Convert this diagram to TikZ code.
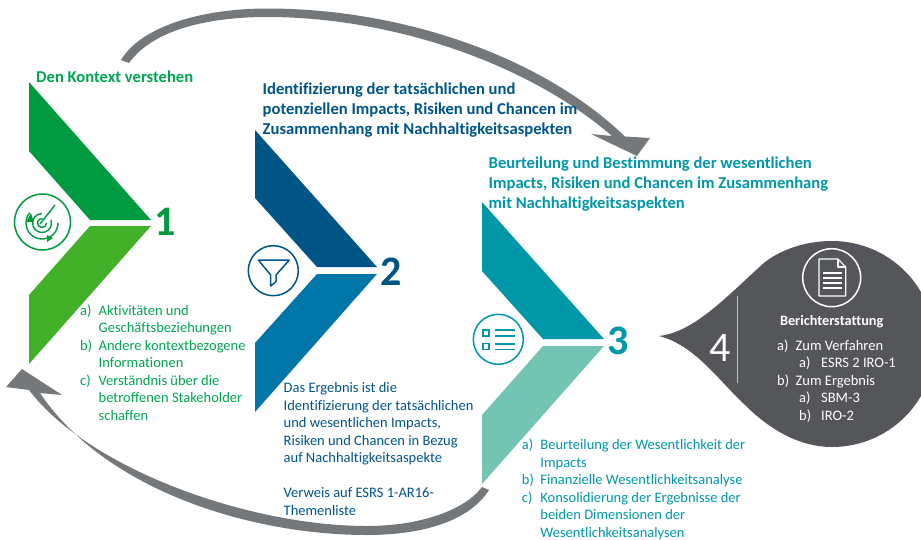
\documentclass[tikz,border=0pt]{standalone}
\usepackage{fontspec}
\setmainfont[Ligatures=NoCommon]{Carlito}
\usetikzlibrary{arrows.meta}
\definecolor{greenA}{RGB}{0,155,65}
\definecolor{greenB}{RGB}{67,176,42}
\definecolor{greenT}{RGB}{0,166,81}
\definecolor{blueA}{RGB}{0,85,135}
\definecolor{blueB}{RGB}{0,117,168}
\definecolor{tealA}{RGB}{0,151,169}
\definecolor{tealB}{RGB}{116,196,180}
\definecolor{arrowgrey}{RGB}{117,120,123}
\definecolor{dropgrey}{RGB}{84,86,90}
\definecolor{ruleg}{RGB}{190,192,194}
\newcommand{\lab}[1]{\makebox[18.5pt][l]{#1}}
\tikzset{
  x=1pt,y=-1pt,
  titletext/.style={anchor=base west,inner sep=0pt,align=left,font=\fontsize{16.6}{20}\selectfont\bfseries},
  bodytext/.style={anchor=base west,inner sep=0pt,align=left,font=\fontsize{14.5}{17.5}\selectfont},
  bignum/.style={inner sep=0pt,font=\fontsize{42}{42}\selectfont\bfseries},
  iconring/.style={line width=1.5pt,fill=white},
}
\begin{document}
\begin{tikzpicture}
\clip (0,0) rectangle (921,539);
\fill[white] (0,0) rectangle (921,539);

% top arrow
\fill[arrowgrey] (121,60) .. controls (142,25) and (205,8.5) .. (267,8.5)
  .. controls (400,8.5) and (540,55) .. (625,136.5) -- (650,138) -- (637,156) -- (591,134) -- (612,136)
  .. controls (530,65) and (395,17) .. (267,17)
  .. controls (215,17) and (155,27) .. (129,63) -- cycle;
% bottom arrow
\fill[arrowgrey] (482,487) .. controls (465,510) and (420,526) .. (367,526)
  .. controls (250,526) and (90,470) .. (29,390) -- (6,387) -- (22,369) -- (62,395) -- (40,393)
  .. controls (105,490) and (250,535) .. (367,535)
  .. controls (425,535) and (470,520) .. (489,490) -- cycle;

% chevrons
\fill[greenA] (29,82) -- (151,220) -- (90,220) -- (29,151) -- cycle;
\fill[greenB] (151,226) -- (90,226) -- (29,295) -- (29,364) -- cycle;
\fill[blueA] (255,130) -- (377,267) -- (317,267) -- (255,198) -- cycle;
\fill[blueB] (377,274) -- (317,274) -- (255,343) -- (255,412) -- cycle;
\fill[tealA] (482,202) -- (604,339) -- (543,339) -- (482,271) -- cycle;
\fill[tealB] (604,346) -- (543,346) -- (482,415) -- (482,484) -- cycle;

% drop
\fill[dropgrey] (659,336) .. controls (695,332) and (728,295) .. (765,262)
  .. controls (785,247) and (810,241) .. (832,241)
  .. controls (889,241) and (935,287) .. (935,344)
  .. controls (935,401) and (889,447) .. (832,447)
  .. controls (800,447) and (770,430) .. (745,405)
  .. controls (720,382) and (695,345) .. (659,336) -- cycle;
\draw[ruleg,line width=0.8pt] (737.5,296) -- (737.5,383);

% icon 1: radar
\draw[greenA,iconring] (42.5,222) circle (28);
\begin{scope}[greenA,line width=1.4pt]
  \draw (42,223) ++(0:4.5) arc (0:280:4.5);
  \draw (42,223) ++(-20:9.5) arc (-20:270:9.5);
  \draw (42,223) ++(0:16) arc (0:220:16);
  \draw (40,224) -- (55,205);
  \fill (26,222) -- (31,213) -- (34,222) -- cycle;
  \fill (47,235) -- (53,238) -- (47,242) -- cycle;
\end{scope}
% icon 2: funnel
\draw[blueA,iconring] (273.3,270.7) circle (25);
\draw[blueA,line width=1.5pt,line join=round] (258.3,260) -- (289.3,260) -- (276,275) -- (276,281.7) -- (270.7,286) -- (270.7,275) -- cycle;
% icon 3: list
\draw[tealA,iconring] (498.3,339.3) circle (25);
\begin{scope}[tealA,line width=1.3pt]
  \draw (483,330) rectangle (489,336);
  \draw (483,343.7) rectangle (489,349.7);
  \draw (495,330) -- (515,330);
  \draw (495,336) -- (515,336);
  \draw (495,344) -- (515,344);
  \draw (495,349.3) -- (515,349.3);
\end{scope}
% icon 4: document
\draw[white,line width=1.5pt] (831.7,277.7) circle (29);
\begin{scope}[white,line width=1.2pt,line join=round]
  \draw (819,259) -- (838,259) -- (845.7,267) -- (845.7,296) -- (819,296) -- cycle;
  \draw (838,259) -- (838,267) -- (845.7,267);
  \draw[line width=1.6pt] (823,273) -- (841.5,273) (823,278) -- (841.5,278) (823,283) -- (841.5,283) (823,288) -- (841.5,288);
\end{scope}

% numbers
\node[bignum,text=greenA] (n1) at (165,222) {1};
\node[bignum,text=blueA] (n2) at (391,272) {2};
\node[bignum,text=tealA] (n3) at (618,341) {3};
\node[inner sep=0pt,font=\fontsize{42}{42}\selectfont,text=white] (n4) at (720.5,348) {4};

% titles
\node[titletext,text=greenT] (t1) at (36,82) {Den Kontext verstehen};
\node[titletext,text=blueA] (t2) at (262.5,134) {Identifizierung der tatsächlichen und\\potenziellen Impacts, Risiken und Chancen im\\Zusammenhang mit Nachhaltigkeitsaspekten};
\node[titletext,text=tealA] (t3) at (488.5,208) {Beurteilung und Bestimmung der wesentlichen\\Impacts, Risiken und Chancen im Zusammenhang\\mit Nachhaltigkeitsaspekten};

% bodies
\node[bodytext,text=greenT] (b1) at (80,420) {\lab{a)}Aktivitäten und\\\lab{}Geschäftsbeziehungen\\\lab{b)}Andere kontextbezogene\\\lab{}Informationen\\\lab{c)}Verständnis über die\\\lab{}betroffenen Stakeholder\\\lab{}schaffen};
\node[bodytext,text=blueA] (b2) at (283.5,515) {Das Ergebnis ist die\\Identifizierung der tatsächlichen\\und wesentlichen Impacts,\\Risiken und Chancen in Bezug\\auf Nachhaltigkeitsaspekte\\[17.5pt]Verweis auf ESRS 1-AR16-\\Themenliste};
\node[bodytext,text=tealA] (b3) at (521.7,537) {\lab{a)}Beurteilung der Wesentlichkeit der\\\lab{}Impacts\\\lab{b)}Finanzielle Wesentlichkeitsanalyse\\\lab{c)}Konsolidierung der Ergebnisse der\\\lab{}beiden Dimensionen der\\\lab{}Wesentlichkeitsanalysen};

\node[inner sep=0pt,anchor=base,font=\fontsize{14.3}{17.5}\selectfont\bfseries,text=white] (h4) at (831.7,325) {Berichterstattung};
\node[bodytext,text=white] (b4) at (777,420) {\lab{a)}Zum Verfahren\\\hspace*{22pt}\makebox[22pt][l]{a)}ESRS 2 IRO-1\\\lab{b)}Zum Ergebnis\\\hspace*{22pt}\makebox[22pt][l]{a)}SBM-3\\\hspace*{22pt}\makebox[22pt][l]{b)}IRO-2};
\end{tikzpicture}
\end{document}
